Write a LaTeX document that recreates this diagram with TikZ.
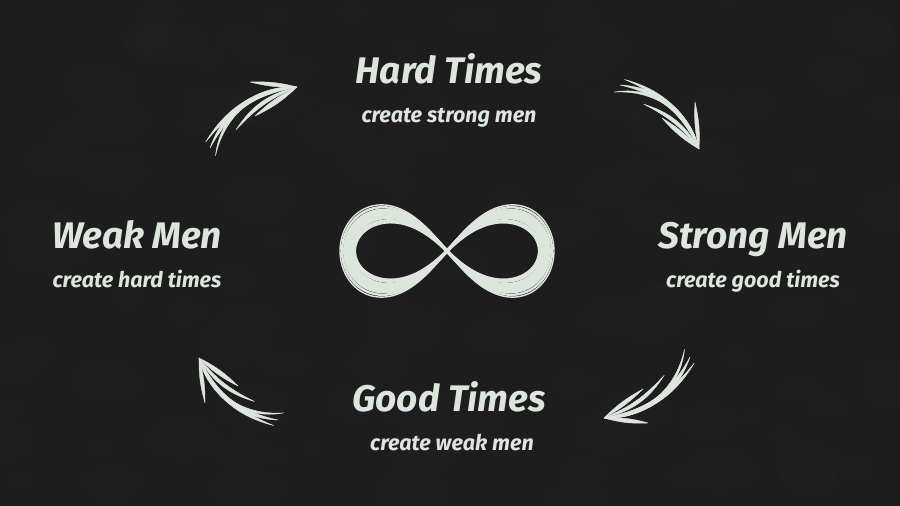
\documentclass[tikz,border=0pt]{standalone}
\usepackage{fontspec}
\setmainfont{Fira Sans}
\usetikzlibrary{calc}
\definecolor{board}{HTML}{1D1D1D}
\definecolor{chalk}{HTML}{DCE6DC}
\begin{document}
\begin{tikzpicture}[x=1pt,y=1pt,
  title/.style={text=chalk, font=\fontsize{37}{40}\selectfont\bfseries\itshape, inner sep=0pt, anchor=base},
  sub/.style={text=chalk, font=\fontsize{21.5}{24}\selectfont\bfseries\itshape, inner sep=0pt, anchor=base},
  chalkstroke/.style={fill=chalk, draw=chalk, line width=0.4pt, line join=round},
  loopline/.style={draw=chalk, line cap=round}
]
\fill[board] (0,0) rectangle (900,506);
\useasboundingbox (0,0) rectangle (900,506);
% faint chalk smudges
\pgfmathsetseed{7}
\foreach \i in {1,...,120}{
  \pgfmathsetmacro{\px}{rnd*900}
  \pgfmathsetmacro{\py}{rnd*506}
  \pgfmathsetmacro{\pr}{10+rnd*30}
  \fill[white, opacity=0.007] (\px,\py) ellipse ({\pr} and {\pr*0.6});
}

% texts
\node[title] (hard)   at (449,422) {Hard Times};
\node[sub]   (hardsub) at (449,383) {create strong men};
\node[title] (strong) at (753,257) {Strong Men};
\node[sub]   (strongsub) at (753,218) {create good times};
\node[title] (good)   at (449,94) {Good Times};
\node[sub]   (goodsub) at (452,55) {create weak men};
\node[title] (weak)   at (137,257) {Weak Men};
\node[sub]   (weaksub) at (137,218) {create hard times};

% infinity sign
\coordinate (inf) at (447,255);
\foreach \a/\b/\w in {105/1.18/2.4, 102/1.10/3.2, 99/1.04/3.6, 96/0.98/2.8, 103/1.14/1.8, 94/0.92/2.6, 100/1.07/2.2, 92/0.88/2.2, 107/1.22/1.4, 97/1.01/3.0, 93/0.90/1.6}{
  \draw[loopline, line width=\w] plot[domain=0:360, samples=140, smooth]
    ({447+\a*cos(\x)/(1+sin(\x)^2)}, {255+\b*\a*sin(\x)*cos(\x)/(1+sin(\x)^2)});
}

% arrow end points
\coordinate (tls) at (210,358); \coordinate (tle) at (297,419);
\coordinate (tlb1) at (250,424); \coordinate (tlb2) at (255,390);
\coordinate (trs) at (620,421); \coordinate (tre) at (699,357);
\coordinate (trb1) at (695,404); \coordinate (trb2) at (662,388);
\coordinate (brs) at (690,149); \coordinate (bre) at (604,88);
\coordinate (brb1) at (643,117); \coordinate (brb2) at (648,83);
\coordinate (bls) at (278,86);  \coordinate (ble) at (199,148);
\coordinate (blb1) at (205,103); \coordinate (blb2) at (238,120);

\foreach \p in {tl,tr,br,bl}{
  \fill[chalkstroke] (\p s) to[bend left=36] (\p e) to[bend right=26] (\p s) -- cycle;
  \fill[chalkstroke] ($(\p s)!0.07!90:(\p e)$) to[bend left=28] (\p e) to[bend right=20] ($(\p s)!0.07!90:(\p e)$) -- cycle;
  \fill[chalkstroke] ($(\p s)!0.09!-90:(\p e)$) to[bend left=44] (\p e) to[bend right=37] ($(\p s)!0.09!-90:(\p e)$) -- cycle;
  \fill[chalkstroke] ($(\p s)!0.3!(\p e)$) to[bend left=22] (\p e) to[bend right=12] ($(\p s)!0.3!(\p e)$) -- cycle;
  \fill[chalkstroke] (\p e) to[bend left=8] (\p b1) to[bend left=8] (\p e) -- cycle;
  \fill[chalkstroke] (\p e) to[bend left=9] (\p b2) to[bend left=9] (\p e) -- cycle;
}
\end{tikzpicture}
\end{document}
